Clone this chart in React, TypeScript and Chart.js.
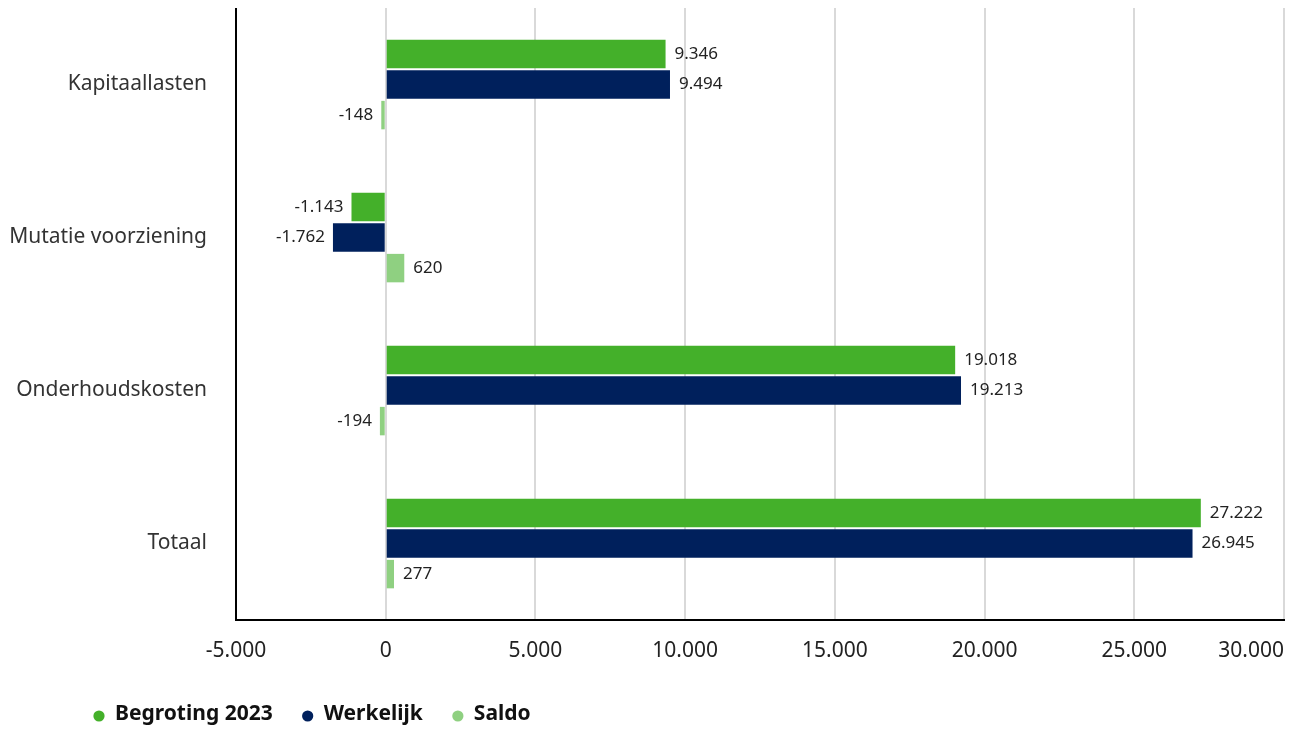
import React, { useEffect, useRef } from 'react';
import { Chart, registerables } from 'chart.js';

Chart.register(...registerables);

// Budget vs. actuals per cost category (amounts in thousands)
const categories = ['Kapitaallasten', 'Mutatie voorziening', 'Onderhoudskosten', 'Totaal'];
const begroting = [9346, -1143, 19018, 27222];
const werkelijk = [9494, -1762, 19213, 26945];
const saldo = [-148, 620, -194, 277];
const seriesNames = ['Begroting 2023', 'Werkelijk', 'Saldo'];
const seriesColors = ['#44b02a', '#00205c', '#8fd081'];
const xTickValues = [-5000, 0, 5000, 10000, 15000, 20000, 25000, 30000];

const FONT = '"Noto Sans", sans-serif';

// Dutch number notation: dot as thousands separator
const fmt = (v: number) => {
  const s = Math.round(Math.abs(v)).toString().replace(/\B(?=(\d{3})+(?!\d))/g, '.');
  return (v < 0 ? '-' : '') + s;
};

// Value labels next to the end of each bar
const valueLabels = {
  id: 'valueLabels',
  afterDatasetsDraw(chart: any) {
    const ctx = chart.ctx;
    ctx.save();
    ctx.font = `17px ${FONT}`;
    ctx.fillStyle = '#222';
    ctx.textBaseline = 'middle';
    chart.data.datasets.forEach((ds: any, di: number) => {
      const meta = chart.getDatasetMeta(di);
      meta.data.forEach((bar: any, i: number) => {
        const v = ds.data[i] as number;
        const { x, y } = bar.getProps(['x', 'y'], true);
        if (v >= 0) {
          ctx.textAlign = 'left';
          ctx.fillText(fmt(v), x + 9, y);
        } else {
          ctx.textAlign = 'right';
          ctx.fillText(fmt(v), x - 8, y);
        }
      });
    });
    ctx.restore();
  },
};

// Horizontal axis labels, the last one kept inside the plot's right edge
const xTickText = {
  id: 'xTickText',
  afterDraw(chart: any) {
    const sc = chart.scales.x;
    const area = chart.chartArea;
    const ctx = chart.ctx;
    ctx.save();
    ctx.font = `21px ${FONT}`;
    ctx.fillStyle = '#222';
    ctx.textBaseline = 'middle';
    ctx.textAlign = 'center';
    sc.ticks.forEach((t: any) => {
      const txt = fmt(t.value);
      const w = ctx.measureText(txt).width;
      const px = Math.min(sc.getPixelForValue(t.value), area.right - w / 2);
      ctx.fillText(txt, px, area.bottom + 31);
    });
    ctx.restore();
  },
};

// Series legend below the axis: round markers with bold names
const seriesLegend = {
  id: 'seriesLegend',
  afterDraw(chart: any) {
    const ctx = chart.ctx;
    const y = chart.chartArea.bottom + 94;
    let x = 85;
    ctx.save();
    ctx.font = `bold 21px ${FONT}`;
    ctx.textBaseline = 'middle';
    ctx.textAlign = 'left';
    chart.data.datasets.forEach((ds: any) => {
      ctx.fillStyle = ds.backgroundColor;
      ctx.beginPath();
      ctx.arc(x + 6, y + 2, 5.6, 0, Math.PI * 2);
      ctx.fill();
      ctx.fillStyle = '#111';
      ctx.fillText(ds.label, x + 22, y);
      x += 22 + ctx.measureText(ds.label).width + 29;
    });
    ctx.restore();
  },
};

export default function App() {
  const canvasRef = useRef<HTMLCanvasElement | null>(null);

  useEffect(() => {
    if (!canvasRef.current) return;
    const series = [begroting, werkelijk, saldo];
    const chart = new Chart(canvasRef.current, {
      type: 'bar',
      data: {
        labels: categories,
        datasets: series.map((data, i) => ({
          label: seriesNames[i],
          data,
          backgroundColor: seriesColors[i],
          borderWidth: 0,
          categoryPercentage: 0.6,
          barPercentage: 0.93,
        })),
      },
      options: {
        indexAxis: 'y',
        responsive: true,
        maintainAspectRatio: false,
        animation: false,
        layout: { padding: { top: 0, right: 4, left: 0, bottom: 0 } },
        plugins: {
          legend: { display: false },
          tooltip: { enabled: false },
        },
        scales: {
          x: {
            min: -5000,
            max: 30000,
            afterBuildTicks: (s: any) => {
              s.ticks = xTickValues.map((v) => ({ value: v }));
            },
            ticks: { display: false },
            grid: { color: '#d9d9d9', lineWidth: 2, drawTicks: false },
            border: { color: '#000', width: 2 },
            afterFit: (s: any) => {
              s.height = 111;
              s.paddingLeft = 0;
              s.paddingRight = 0;
            },
          },
          y: {
            grid: { display: false, drawTicks: false },
            border: { color: '#000', width: 2 },
            ticks: { color: '#333', padding: 29, font: { family: FONT, size: 21 } },
            afterFit: (s: any) => {
              s.width = 228;
              s.paddingTop = 0;
              s.paddingBottom = 0;
            },
          },
        },
      },
      plugins: [valueLabels, xTickText, seriesLegend],
    } as any);
    return () => chart.destroy();
  }, []);

  return (
    <div style={{ position: 'fixed', top: 8, left: 8, width: 1280, height: 723 }}>
      <canvas ref={canvasRef} />
    </div>
  );
}
